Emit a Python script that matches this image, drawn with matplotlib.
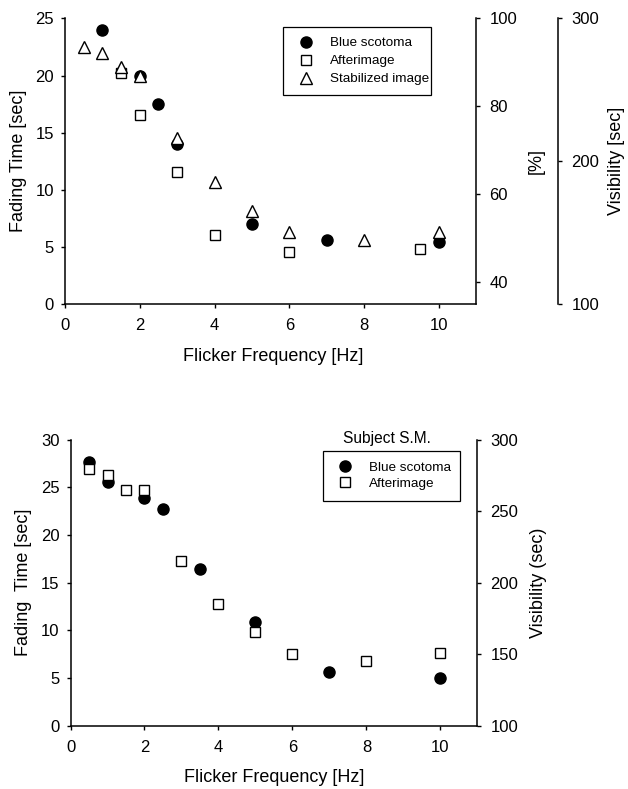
import matplotlib
matplotlib.use("Agg")
import matplotlib.pyplot as plt

plt.rcParams["font.family"] = ["Liberation Sans", "DejaVu Sans"]

# upper panel: fading time vs flicker frequency
top_scotoma_hz = [1, 2, 2.5, 3, 5, 7, 10]
top_scotoma_sec = [24.0, 20.0, 17.5, 14.0, 7.0, 5.65, 5.45]
top_after_hz = [1.5, 2, 3, 4, 6, 9.5]
top_after_sec = [20.2, 16.55, 11.6, 6.1, 4.6, 4.8]
top_stab_hz = [0.5, 1, 1.5, 2, 3, 4, 5, 6, 8, 10]
top_stab_sec = [22.5, 21.95, 20.7, 20.0, 14.5, 10.7, 8.2, 6.35, 5.65, 6.3]

# lower panel, subject S.M.
bot_scotoma_hz = [0.5, 1, 2, 2.5, 3.5, 5, 7, 10]
bot_scotoma_sec = [27.6, 25.6, 23.9, 22.7, 16.4, 10.9, 5.6, 5.05]
bot_after_hz = [0.5, 1, 1.5, 2, 3, 4, 5, 6, 8, 10]
bot_after_sec = [26.9, 26.3, 24.7, 24.75, 17.3, 12.8, 9.8, 7.5, 6.8, 7.6]

x_ticks = [0, 2, 4, 6, 8, 10]

TICK_FS = 12
LABEL_FS = 13
LEGEND_FS = 9.7

CIRCLE = dict(linestyle="none", marker="o", ms=8, color="black", zorder=3)
SQUARE = dict(linestyle="none", marker="s", ms=7, mfc="white", mec="black", mew=1.0, zorder=4)
TRIANGLE = dict(linestyle="none", marker="^", ms=8, mfc="white", mec="black", mew=1.0, zorder=5)


def style_axis(ax):
    ax.spines["top"].set_visible(False)
    for side in ("left", "right", "bottom"):
        ax.spines[side].set_linewidth(1.1)
    ax.tick_params(direction="out", length=3, width=1.0, labelsize=TICK_FS)
    ax.tick_params(axis="x", pad=7)
    ax.tick_params(axis="y", pad=5)


def right_axis(ax, ylim, ticks, label, offset=None):
    tw = ax.twinx()
    for side in ("top", "left", "bottom"):
        tw.spines[side].set_visible(False)
    tw.spines["right"].set_linewidth(1.1)
    if offset is not None:
        tw.spines["right"].set_position(("axes", offset))
    tw.set_ylim(*ylim)
    tw.set_yticks(ticks)
    tw.tick_params(direction="out", length=3, width=1.0, labelsize=TICK_FS, pad=6.5)
    tw.set_ylabel(label, fontsize=LABEL_FS)
    return tw


def boxed_legend(ax, box, borderpad, handlelength, handletextpad, labelspacing):
    # box = (left, top, width) in axes fraction; width is fixed via expand mode
    left, top, width = box
    leg = ax.legend(loc="upper left", bbox_to_anchor=(left, top - 0.5, width, 0.5),
                    mode="expand", borderaxespad=0,
                    fontsize=LEGEND_FS, frameon=True, fancybox=False,
                    borderpad=borderpad, handlelength=handlelength,
                    handletextpad=handletextpad, labelspacing=labelspacing)
    frame = leg.get_frame()
    frame.set_edgecolor("black")
    frame.set_linewidth(0.9)
    frame.set_alpha(1)
    return leg


fig = plt.figure(figsize=(6.28, 7.89), dpi=100)
fig.patch.set_facecolor("white")

# ---- upper panel ----
ax1 = fig.add_axes([0.1035, 0.6143, 0.6551, 0.3625])
ax1.plot(top_scotoma_hz, top_scotoma_sec, label="Blue scotoma", **CIRCLE)
ax1.plot(top_after_hz, top_after_sec, label="Afterimage", **SQUARE)
ax1.plot(top_stab_hz, top_stab_sec, label="Stabilized image", **TRIANGLE)
ax1.set_xlim(0, 11)
ax1.set_ylim(0, 25)
ax1.set_xticks(x_ticks)
ax1.set_yticks([0, 5, 10, 15, 20, 25])
style_axis(ax1)
ax1.set_xlabel("Flicker Frequency [Hz]", fontsize=LABEL_FS)
ax1.set_ylabel("Fading Time [sec]", fontsize=LABEL_FS)
ax1.xaxis.set_label_coords(0.507, -0.153)
ax1.yaxis.set_label_coords(-0.093, 0.5)
ax1.spines["right"].set_visible(False)

pct = right_axis(ax1, (35, 100), [40, 60, 80, 100], "[%]")
pct.yaxis.set_label_coords(1.125, 0.5)
vis1 = right_axis(ax1, (100, 300), [100, 200, 300], "Visibility [sec]", offset=1.199)
vis1.yaxis.set_label_coords(1.32, 0.5)

boxed_legend(ax1, (0.531, 0.9685, 0.359), 0.72, 1.9, 0.8, 0.41)
# keep the legend above the twin axes
ax1.set_zorder(pct.get_zorder() + 2)
ax1.patch.set_visible(False)

# ---- lower panel ----
ax2 = fig.add_axes([0.1123, 0.0802, 0.6478, 0.3627])
ax2.plot(bot_scotoma_hz, bot_scotoma_sec, label="Blue scotoma", **CIRCLE)
ax2.plot(bot_after_hz, bot_after_sec, label="Afterimage", **SQUARE)
ax2.set_xlim(0, 11)
ax2.set_ylim(0, 30)
ax2.set_xticks(x_ticks)
ax2.set_yticks([0, 5, 10, 15, 20, 25, 30])
style_axis(ax2)
ax2.set_xlabel("Flicker Frequency [Hz]", fontsize=LABEL_FS)
ax2.set_ylabel("Fading  Time [sec]", fontsize=LABEL_FS)
ax2.xaxis.set_label_coords(0.5, -0.151)
ax2.yaxis.set_label_coords(-0.095, 0.5)
ax2.spines["right"].set_visible(False)

vis2 = right_axis(ax2, (100, 300), [100, 150, 200, 250, 300], "Visibility (sec)")
vis2.yaxis.set_label_coords(1.13, 0.5)

boxed_legend(ax2, (0.621, 0.961, 0.336), 0.78, 1.72, 0.9, 0.3)
ax2.text(0.778, 1.005, "Subject S.M.", transform=ax2.transAxes,
         ha="center", va="center", fontsize=11.2)
ax2.set_zorder(vis2.get_zorder() + 2)
ax2.patch.set_visible(False)

fig.savefig("out.png", dpi=100, facecolor="white")
plt.close(fig)
